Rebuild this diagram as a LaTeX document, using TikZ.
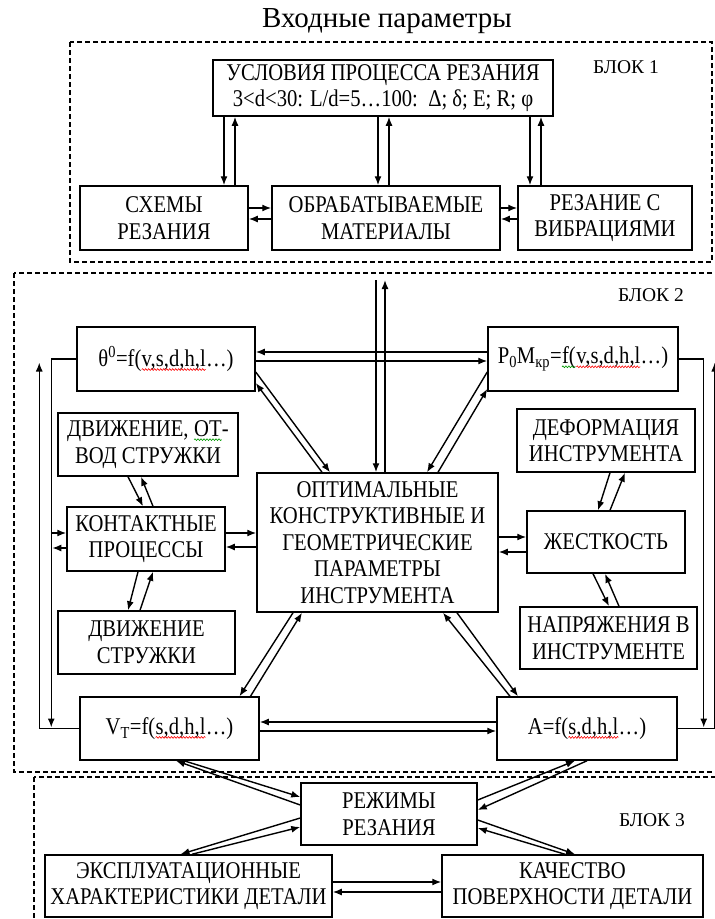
\documentclass[tikz,border=0pt]{standalone}
\usepackage{fontspec}
\setmainfont{Liberation Serif}
\newfontfamily\boxfont{Liberation Serif}[FakeStretch=0.86]
\usetikzlibrary{arrows.meta}
\usetikzlibrary{decorations.pathmorphing}
\newcommand{\wavy}[2] % colour of the wave, text
{\tikz[baseline=(w.base)]{\node[draw=none, inner sep=0pt, outer sep=0pt, minimum width=0pt, minimum height=0pt] (w) {#2};
	\draw[#1, line width=0.6pt, decorate, decoration={snake, amplitude=0.9pt, segment length=3pt}] ([yshift=-3pt]w.base west) -- ([yshift=-3pt]w.base east);}}
\tikzset{
	box/.style={draw, line width=1.5pt, align=center, inner sep=0pt, font=\boxfont\fontsize{24}{26.5}\selectfont},
	wh/.style 2 args={minimum width=#1pt, minimum height=#2pt},
	block/.style={line width=1.1pt, dash pattern=on 5pt off 3pt},
	arr/.style={->, line width=1.4pt},
	tag/.style={font=\fontsize{19.5}{22}\selectfont},
}

\begin{document}
\begin{tikzpicture}[x=1pt, y=-1pt, >={Latex[length=9pt,width=7pt]}]
	% 715 x 919, y counted downwards
	\useasboundingbox (0,0) rectangle (715,919);
	
	% dashed blocks
	\draw[block] (70,42) rectangle (712,262);
	\draw[block] (14,273) rectangle (740,772);
	\draw[block] (34,777) rectangle (740,940);
	\node[font=\fontsize{29}{31}\selectfont] (title) at (387,21) {Входные параметры};
	\node[tag] (blk1) at (626,67) {БЛОК 1};
	\node[tag] (blk2) at (651,295) {БЛОК 2};
	\node[tag] (blk3) at (652,820) {БЛОК 3};
	
	% block 1
	\node[box, wh={340}{56}] (uslov) at (383,88) {УСЛОВИЯ ПРОЦЕССА РЕЗАНИЯ\\3<d<30: L/d=5…100:\ \ Δ; δ; E; R; φ};
	\node[box, wh={168}{64}] (shemy) at (164,218) {СХЕМЫ\\РЕЗАНИЯ};
	\node[box, wh={228}{64}] (mater) at (386,218) {ОБРАБАТЫВАЕМЫЕ\\МАТЕРИАЛЫ};
	\node[box, wh={174}{64}] (vibr) at (605,218) {РЕЗАНИЕ С\\ВИБРАЦИЯМИ};
	
	% block 2
	\node[box, wh={178}{64}] (theta) at (166,359) {θ\textsuperscript{0}=f(\wavy{red}{v,s,d,h,l}…)};
	\node[box, wh={190}{64}] (power) at (583,359) {P\textsubscript{0}M\textsubscript{кр}=\wavy{green!60!black}{f(}\wavy{red}{v,s,d,h,l}…)};
	\node[box, wh={180}{63}] (otvod) at (148,444.5) {ДВИЖЕНИЕ, \wavy{green!60!black}{ОТ}-\\ВОД СТРУЖКИ};
	\node[box, wh={158}{64}] (kontakt) at (146,539) {КОНТАКТНЫЕ\\ПРОЦЕССЫ};
	\node[box, wh={177}{63}] (struzh) at (146.5,642.5) {ДВИЖЕНИЕ\\СТРУЖКИ};
	\node[box, wh={241}{139}] (optim) at (377.5,542.5) {ОПТИМАЛЬНЫЕ\\КОНСТРУКТИВНЫЕ И\\ГЕОМЕТРИЧЕСКИЕ\\ПАРАМЕТРЫ\\ИНСТРУМЕНТА};
	\node[box, wh={178}{63}] (deform) at (606,440.5) {ДЕФОРМАЦИЯ\\ИНСТРУМЕНТА};
	\node[box, wh={158}{62}] (zhest) at (606,542) {ЖЕСТКОСТЬ};
	\node[box, wh={177}{62}] (napr) at (608.5,638) {НАПРЯЖЕНИЯ В\\ИНСТРУМЕНТЕ};
	\node[box, wh={179}{63}] (vt) at (169.5,728.5) {V\textsubscript{T}=f(\wavy{red}{s,d,h,l}…)};
	\node[box, wh={180}{63}] (aa) at (587,728.5) {A=f(\wavy{red}{s,d,h,l}…)};
	
	% block 3
	\node[box, wh={176}{62}] (rezhim) at (389,814) {РЕЖИМЫ\\РЕЗАНИЯ};
	\node[box, wh={287}{62}] (expl) at (188.5,886) {ЭКСПЛУАТАЦИОННЫЕ\\ХАРАКТЕРИСТИКИ ДЕТАЛИ};
	\node[box, wh={261}{62}] (kach) at (572.5,886) {КАЧЕСТВО\\ПОВЕРХНОСТИ ДЕТАЛИ};
	
	% arrows in block 1
	\draw[arr] ([xshift=-159pt]uslov.south) -- ([xshift=60pt]shemy.north);
	\draw[arr] ([xshift=71pt]shemy.north) -- ([xshift=-148pt]uslov.south);
	\draw[arr] ([xshift=-5pt]uslov.south) -- ([xshift=-8pt]mater.north);
	\draw[arr] ([xshift=3pt]mater.north) -- ([xshift=6pt]uslov.south);
	\draw[arr] ([xshift=147pt]uslov.south) -- ([xshift=-75pt]vibr.north);
	\draw[arr] ([xshift=-64pt]vibr.north) -- ([xshift=158pt]uslov.south);
	\draw[arr] ([yshift=10pt]shemy.east) -- ([yshift=10pt]mater.west);
	\draw[arr] ([yshift=-1pt]mater.west) -- ([yshift=-1pt]shemy.east);
	\draw[arr] ([yshift=10pt]mater.east) -- ([yshift=10pt]vibr.west);
	\draw[arr] ([yshift=-1pt]vibr.west) -- ([yshift=-1pt]mater.east);
	
	% input into block 2
	\coordinate (in1) at (376,280);
	\coordinate (in2) at (385,280);
	\draw[arr] (in1) -- ([xshift=-1.5pt]optim.north);
	\draw[arr] ([xshift=7.5pt]optim.north) -- (in2);
	
	% upper part of block 2
	\draw[arr] ([yshift=7pt]power.west) -- ([yshift=7pt]theta.east);
	\draw[arr] ([yshift=-2pt]theta.east) -- ([yshift=-2pt]power.west);
	\draw[arr] ([yshift=-13pt]theta.east) -- ([xshift=-47.5pt]optim.north);
	\draw[arr] ([xshift=-55.5pt]optim.north) -- ([yshift=-24pt]theta.east);
	\draw[arr] ([yshift=-13pt]power.west) -- ([xshift=49.5pt]optim.north);
	\draw[arr] ([xshift=60.5pt]optim.north) -- ([yshift=-30pt]power.west);
	
	% left column
	\draw[arr] ([xshift=-20pt]otvod.south) -- ([xshift=-3pt]kontakt.north);
	\draw[arr] ([xshift=7pt]kontakt.north) -- ([xshift=-7pt]otvod.south);
	\draw[arr] ([xshift=-8pt]kontakt.south) -- ([xshift=-18.5pt]struzh.north);
	\draw[arr] ([xshift=-6.5pt]struzh.north) -- ([xshift=7pt]kontakt.south);
	\draw[arr] ([yshift=6pt]kontakt.east) -- ([yshift=9.5pt]optim.west);
	\draw[arr] ([yshift=-4.5pt]optim.west) -- ([yshift=-8pt]kontakt.east);
	\draw[arr] (theta.west) -- ++(-25,0) -- ++(0,368.5);
	\draw[arr] (vt.west) -- ++(-40,0) -- ++(0,-366);
	\draw[arr, <-] ([yshift=6pt]kontakt.west) -- ++(-15,0);
	\draw[arr] ([yshift=-9pt]kontakt.west) -- ++(-14,0);
	
	% right column
	\draw[arr] ([yshift=5.5pt]optim.east) -- ([yshift=5pt]zhest.west);
	\draw[arr] ([yshift=-10pt]zhest.west) -- ([yshift=-9.5pt]optim.east);
	\draw[arr] ([xshift=4pt]deform.south) -- ([xshift=-8pt]zhest.north);
	\draw[arr] ([xshift=4pt]zhest.north) -- ([xshift=19pt]deform.south);
	\draw[arr] ([xshift=-13pt]zhest.south) -- ([xshift=0.5pt]napr.north);
	\draw[arr] ([xshift=10.5pt]napr.north) -- ([xshift=-1pt]zhest.south);
	\draw[arr] (power.east) -- ++(25,0) -- ++(0,368.5);
	\draw[arr] (aa.east) -- ++(37,0) -- ++(0,-366);
	
	% lower part of block 2
	\draw[arr] ([xshift=-84.5pt]optim.south) -- ([xshift=70pt]vt.north);
	\draw[arr] ([xshift=81pt]vt.north) -- ([xshift=-75.5pt]optim.south);
	\draw[arr] ([xshift=79.5pt]optim.south) -- ([xshift=-69pt]aa.north);
	\draw[arr] ([xshift=-77pt]aa.north) -- ([xshift=65.5pt]optim.south);
	\draw[arr] ([yshift=6.5pt]aa.west) -- ([yshift=6.5pt]vt.east);
	\draw[arr] ([yshift=-2.5pt]vt.east) -- ([yshift=-2.5pt]aa.west);
	
	% block 3
	\draw[arr] ([yshift=9pt]rezhim.west) -- ([xshift=6.5pt]vt.south);
	\draw[arr] ([xshift=14.5pt]vt.south) -- ([yshift=17pt]rezhim.west);
	\draw[arr] ([yshift=14pt]rezhim.east) -- ([xshift=-12pt]aa.south);
	\draw[arr] (aa.south) -- ([yshift=4pt]rezhim.east);
	\draw[arr] ([yshift=-4pt]rezhim.west) -- ([xshift=-8pt]expl.north);
	\draw[arr] ([xshift=3.5pt]expl.north) -- ([yshift=-13pt]rezhim.west);
	\draw[arr] ([yshift=-6pt]rezhim.east) -- ([xshift=2.5pt]kach.north);
	\draw[arr] ([xshift=-7.5pt]kach.north) -- ([yshift=-14pt]rezhim.east);
	\draw[arr] ([yshift=4pt]expl.east) -- ([yshift=4pt]kach.west);
	\draw[arr] ([yshift=-6pt]kach.west) -- ([yshift=-6pt]expl.east);
\end{tikzpicture}
\end{document}
